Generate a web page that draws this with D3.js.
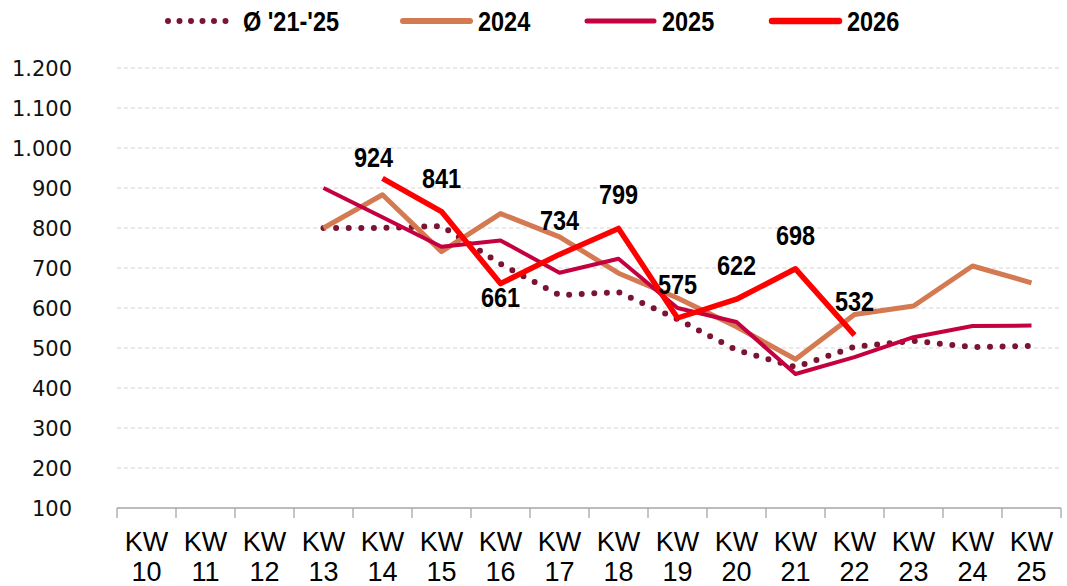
<!DOCTYPE html>
<html>
<head>
<meta charset="utf-8">
<script src="https://cdn.jsdelivr.net/npm/d3@7"></script>
<style>
  html, body { margin: 0; padding: 0; background: #fff; }
</style>
</head>
<body>
<div id="chart"></div>
<script>
// Data
const weeks   = ["10","11","12","13","14","15","16","17","18","19","20","21","22","23","24","25"];
const avg2125 = [null,null,null,800,800,805,710,632,640,572,495,452,503,518,502,505];
const y2024   = [null,null,null,800,883,741,836,778,687,625,553,472,584,605,705,663];
const y2025   = [null,null,null,900,827,753,769,688,723,600,565,435,477,527,555,556];
const y2026   = [null,null,null,null,924,841,661,734,799,575,622,698,532,null,null,null];
const yTicks  = [100,200,300,400,500,600,700,800,900,1000,1100,1200];

// label placement for the 2026 values (dx, dy relative to point)
const labelOffset = {"14": [-9, -11], "16": [0, 23]};

const W = 1067, H = 586;
const margin = {top: 68, right: 6, bottom: 78, left: 117},
      width  = W - margin.left - margin.right,
      height = H - margin.top  - margin.bottom;

const svg = d3.select("#chart")
  .append("svg")
    .attr("width", W)
    .attr("height", H)
  .append("g")
    .attr("transform", `translate(${margin.left},${margin.top})`);

const x = d3.scalePoint()
  .domain(weeks)
  .range([0, width])
  .padding(0.5);
const step = x.step();

const y = d3.scaleLinear()
  .domain([100, 1200])
  .range([height, 0]);

const de = d3.formatLocale({decimal: ",", thousands: ".", grouping: [3], currency: ["", "€"]});
const fmt = de.format(",d");

const narrow = "'Liberation Sans Narrow', 'Arial Narrow', 'Liberation Sans', sans-serif";
const boldFont = "'Liberation Sans', Arial, sans-serif";
const squeeze = 0.87;  // bold labels look condensed in the original

// Grid
svg.append("g")
  .selectAll("line")
  .data(yTicks.filter(d => d > 100))
  .enter().append("line")
    .attr("x1", 0).attr("x2", width)
    .attr("y1", d => y(d)).attr("y2", d => y(d))
    .attr("stroke", "#d4d4d4")
    .attr("stroke-width", 1)
    .attr("stroke-dasharray", "4,3");

// Y labels
svg.append("g")
  .selectAll("text")
  .data(yTicks)
  .enter().append("text")
    .attr("x", -45)
    .attr("y", d => y(d))
    .attr("dy", "0.36em")
    .attr("text-anchor", "end")
    .style("font-family", "'DejaVu Sans', Verdana, sans-serif")
    .style("font-size", "21px")
    .style("fill", "#111")
    .text(d => fmt(d));

// X axis line + ticks between categories
svg.append("line")
  .attr("x1", 0).attr("x2", width)
  .attr("y1", height).attr("y2", height)
  .attr("stroke", "#a6a6a6").attr("stroke-width", 1.3);
svg.append("g")
  .selectAll("line")
  .data(d3.range(weeks.length + 1))
  .enter().append("line")
    .attr("x1", i => i * step).attr("x2", i => i * step)
    .attr("y1", height).attr("y2", height + 10)
    .attr("stroke", "#a6a6a6").attr("stroke-width", 1.3);

const xl = svg.append("g")
  .selectAll("text")
  .data(weeks)
  .enter().append("text")
    .attr("x", d => x(d))
    .attr("text-anchor", "middle")
    .style("font-family", narrow)
    .style("font-size", "27px")
    .style("fill", "#000");
xl.append("tspan").attr("x", d => x(d)).attr("y", height + 43).text("KW");
xl.append("tspan").attr("x", d => x(d)).attr("y", height + 73).text(d => d);

// Lines
const line = d3.line()
  .defined(d => d.v != null)
  .x(d => x(d.w))
  .y(d => y(d.v));
const toPts = arr => weeks.map((w, i) => ({w: w, v: arr[i]}));

const series = [
  {name: "Ø '21-'25", data: avg2125, color: "#7a1432", width: 6,   dash: "0,12.6"},
  {name: "2024",      data: y2024,   color: "#d47a52", width: 5,   dash: null},
  {name: "2025",      data: y2025,   color: "#c4003e", width: 4,   dash: null},
  {name: "2026",      data: y2026,   color: "#ff0000", width: 5.5, dash: null}
];

series.forEach(s => {
  svg.append("path")
    .datum(toPts(s.data))
    .attr("d", line)
    .attr("fill", "none")
    .attr("stroke", s.color)
    .attr("stroke-width", s.width)
    .attr("stroke-linecap", s.dash ? "round" : "butt")
    .attr("stroke-linejoin", "round")
    .attr("stroke-dasharray", s.dash);
});

// Data labels 2026
svg.append("g")
  .selectAll("text")
  .data(toPts(y2026).filter(d => d.v != null))
  .enter().append("text")
    .attr("transform", d => {
      const o = labelOffset[d.w] || [0, -24];
      return `translate(${x(d.w) + o[0]},${y(d.v) + o[1]}) scale(${squeeze},1)`;
    })
    .attr("text-anchor", "middle")
    .style("font-family", boldFont)
    .style("font-size", "27px")
    .style("font-weight", "bold")
    .style("fill", "#000")
    .text(d => fmt(d.v));

// Legend
const legendX = [168, 403, 587, 772];
const legend = svg.append("g")
  .attr("transform", `translate(${-margin.left},${-margin.top})`);
series.forEach((s, i) => {
  const g = legend.append("g").attr("transform", `translate(${legendX[i]},21)`);
  g.append("line")
    .attr("x1", 0).attr("x2", 67)
    .attr("y1", 0).attr("y2", 0)
    .attr("stroke", s.color)
    .attr("stroke-width", s.dash ? s.width : s.width + 1)
    .attr("stroke-linecap", "round")
    .attr("stroke-dasharray", s.dash ? "0,11.5" : null);
  g.append("text")
    .attr("transform", `translate(75,0) scale(${squeeze},1)`)
    .attr("dy", "0.36em")
    .style("font-family", boldFont)
    .style("font-size", "27px")
    .style("font-weight", "bold")
    .style("fill", "#000")
    .text(s.name);
});
</script>
</body>
</html>
